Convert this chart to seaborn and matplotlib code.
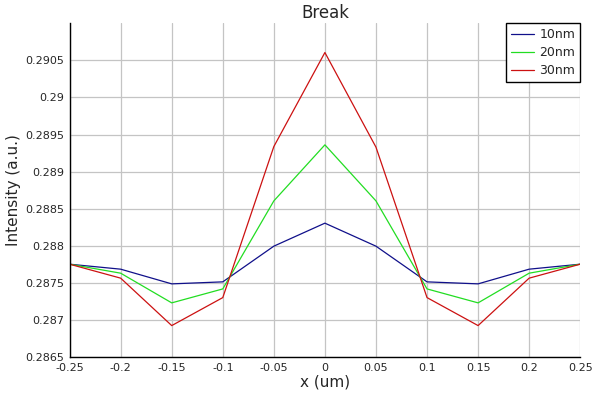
import numpy as np
import pandas as pd
import matplotlib
matplotlib.use('Agg')
import matplotlib.pyplot as plt
import seaborn as sns

# ── Data ──────────────────────────────────────────────────
x_um = [-0.25, -0.2, -0.15, -0.1, -0.05, 0.0, 0.05, 0.1, 0.15, 0.2, 0.25]
i_10nm = [0.287753, 0.287686, 0.287488, 0.287515, 0.287996, 0.288306,
          0.287996, 0.287515, 0.287488, 0.287686, 0.287753]
i_20nm = [0.287753, 0.287632, 0.287232, 0.287420, 0.288606, 0.289361,
          0.288606, 0.287420, 0.287232, 0.287632, 0.287753]
i_30nm = [0.287753, 0.287565, 0.286926, 0.287303, 0.289338, 0.290605,
          0.289330, 0.287303, 0.286926, 0.287565, 0.287753]
series = ['10nm', '20nm', '30nm']
colors = ['#10108a', '#22dd22', '#cc1111']

xticks = [-0.25, -0.2, -0.15, -0.1, -0.05, 0, 0.05, 0.1, 0.15, 0.2, 0.25]
xtick_labels = ['-0.25', '-0.2', '-0.15', '-0.1', '-0.05', '0', '0.05', '0.1', '0.15', '0.2', '0.25']
yticks = [0.2865, 0.287, 0.2875, 0.288, 0.2885, 0.289, 0.2895, 0.29, 0.2905]
ytick_labels = ['0.2865', '0.287', '0.2875', '0.288', '0.2885', '0.289', '0.2895', '0.29', '0.2905']

df = pd.DataFrame({
    'x': x_um * 3,
    'intensity': i_10nm + i_20nm + i_30nm,
    'series': [s for s in series for _ in x_um],
})

# ── Style ────────────────────────────────────────────────
sns.set_style('white')
plt.rcParams['font.family'] = ['DejaVu Sans']

fig = plt.figure(figsize=(6, 4), dpi=100, facecolor='white')
ax = fig.add_axes([0.116, 0.107, 0.851, 0.835])

sns.lineplot(data=df, x='x', y='intensity', hue='series', hue_order=series,
             palette=colors, linewidth=0.9, ax=ax, sort=False)

ax.set_xlim(-0.25, 0.25)
ax.set_ylim(0.2865, 0.291)
ax.set_xticks(xticks)
ax.set_xticklabels(xtick_labels)
ax.set_yticks(yticks)
ax.set_yticklabels(ytick_labels)
ax.grid(True, color='#c4c4c4', linewidth=0.9)
ax.set_axisbelow(True)
ax.tick_params(axis='both', direction='out', length=3, width=1, color='black',
               labelsize=8, pad=1)

for side in ['top', 'right']:
    ax.spines[side].set_visible(False)
for side in ['left', 'bottom']:
    ax.spines[side].set_color('black')
    ax.spines[side].set_linewidth(1)

ax.set_xlabel('x (um)', fontsize=11, labelpad=1)
ax.set_ylabel('Intensity (a.u.)', fontsize=11, labelpad=3)
ax.set_title('Break', fontsize=12, pad=4)

leg = ax.legend(loc='upper right', bbox_to_anchor=(1.0, 1.0), fontsize=9,
                frameon=True, fancybox=False, framealpha=1, borderaxespad=0,
                handlelength=1.9, handletextpad=0.4, labelspacing=0.4,
                borderpad=0.4)
leg.get_frame().set_edgecolor('black')
leg.get_frame().set_linewidth(1)

plt.savefig('out.png', dpi=100, facecolor='white')
plt.close()
